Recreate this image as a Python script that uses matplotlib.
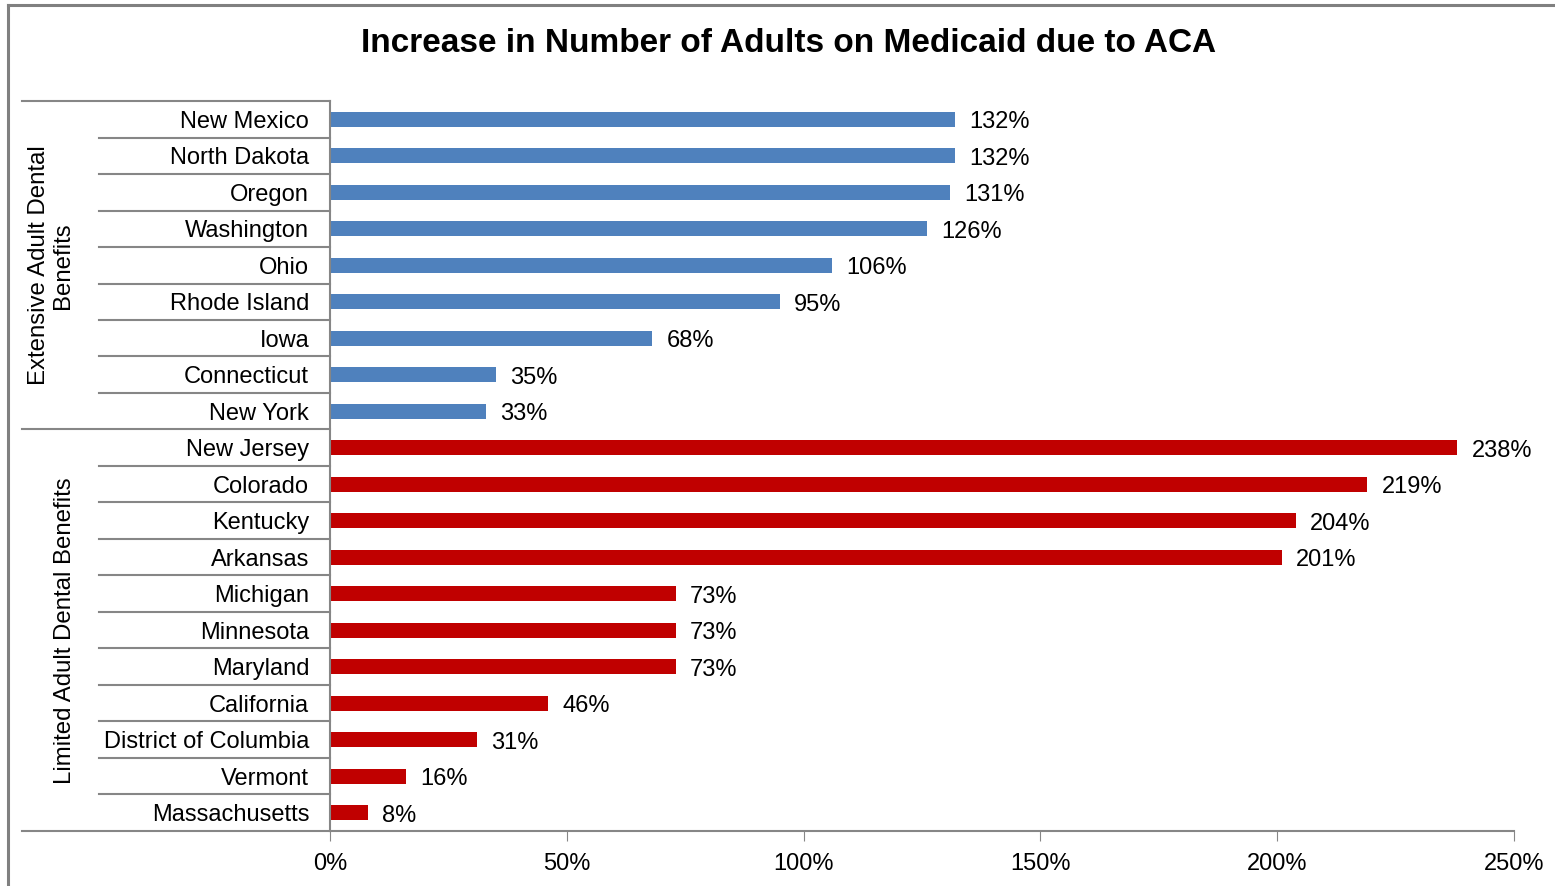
import matplotlib
matplotlib.use("Agg")
import matplotlib.pyplot as plt
from matplotlib.lines import Line2D
from matplotlib.ticker import FuncFormatter, MultipleLocator

plt.rcParams['font.family'] = ['Liberation Sans', 'DejaVu Sans']

# States listed top to bottom
extensive_states = ["New Mexico", "North Dakota", "Oregon", "Washington", "Ohio",
                    "Rhode Island", "Iowa", "Connecticut", "New York"]
extensive_pct = [132, 132, 131, 126, 106, 95, 68, 35, 33]

limited_states = ["New Jersey", "Colorado", "Kentucky", "Arkansas", "Michigan",
                  "Minnesota", "Maryland", "California", "District of Columbia",
                  "Vermont", "Massachusetts"]
limited_pct = [238, 219, 204, 201, 73, 73, 73, 46, 31, 16, 8]

group_labels = ["Extensive Adult Dental\nBenefits", "Limited Adult Dental Benefits"]
title = "Increase in Number of Adults on Medicaid due to ACA"

BLUE = "#4F81BD"
RED = "#C00000"
GRAY = "#868686"

W, H = 1555, 886
fig = plt.figure(figsize=(W / 100, H / 100), dpi=100)
ax = fig.add_axes([330 / W, 1 - 831 / H, (1514 - 330) / W, (831 - 101) / H])

states = extensive_states + limited_states
values = extensive_pct + limited_pct
colors = [BLUE] * len(extensive_states) + [RED] * len(limited_states)
ypos = list(range(len(states)))

ax.barh(ypos, values, height=0.42, color=colors, zorder=2)
for y, v in zip(ypos, values):
    ax.text(v + 3, y + 0.08, f"{v}%", va="center", ha="left", fontsize=17)

ax.set_xlim(0, 250)
ax.set_ylim(len(states) - 0.5, -0.5)
ax.xaxis.set_major_locator(MultipleLocator(50))
ax.xaxis.set_major_formatter(FuncFormatter(lambda x, _: f"{x:.0f}%"))
ax.tick_params(axis="x", length=7, color=GRAY, labelsize=17, pad=9)
ax.tick_params(axis="y", length=0, labelsize=17, pad=15)
ax.set_yticks(ypos)
ax.set_yticklabels(states)

for side in ("top", "right"):
    ax.spines[side].set_visible(False)
for side in ("left", "bottom"):
    ax.spines[side].set_color(GRAY)
    ax.spines[side].set_linewidth(1.5)
ax.spines["bottom"].set_bounds(0, 250)

# row separators in the label column; longer lines mark group boundaries
x_short = (99 - 330) / (1514 - 330)
x_long = (22 - 330) / (1514 - 330)
tr = ax.get_yaxis_transform()
n_ext = len(extensive_states)
for b in range(len(states) + 1):
    yb = b - 0.5
    x0 = x_long if b in (0, n_ext, len(states)) else x_short
    ax.plot([x0, 0], [yb, yb], color=GRAY, lw=1.5, transform=tr, clip_on=False)

# rotated group titles
ax.text((51 - 330) / (1514 - 330), (n_ext - 1) / 2, group_labels[0],
        rotation=90, ha="center", va="center", fontsize=17.3,
        linespacing=1.15, transform=tr)
ax.text((65 - 330) / (1514 - 330), n_ext + (len(limited_states) - 1) / 2,
        group_labels[1], rotation=90, ha="center", va="center",
        fontsize=17.3, transform=tr)

fig.text(789 / W, 1 - 43 / H, title, ha="center", va="center",
         fontsize=24, fontweight="bold")

# chart frame (top and left edges)
fig.add_artist(Line2D([8 / W, 1], [1 - 5 / H, 1 - 5 / H], color="#808080", lw=2.2))
fig.add_artist(Line2D([8 / W, 8 / W], [0, 1 - 5 / H], color="#808080", lw=2.2))

fig.savefig("out.png", dpi=100)
